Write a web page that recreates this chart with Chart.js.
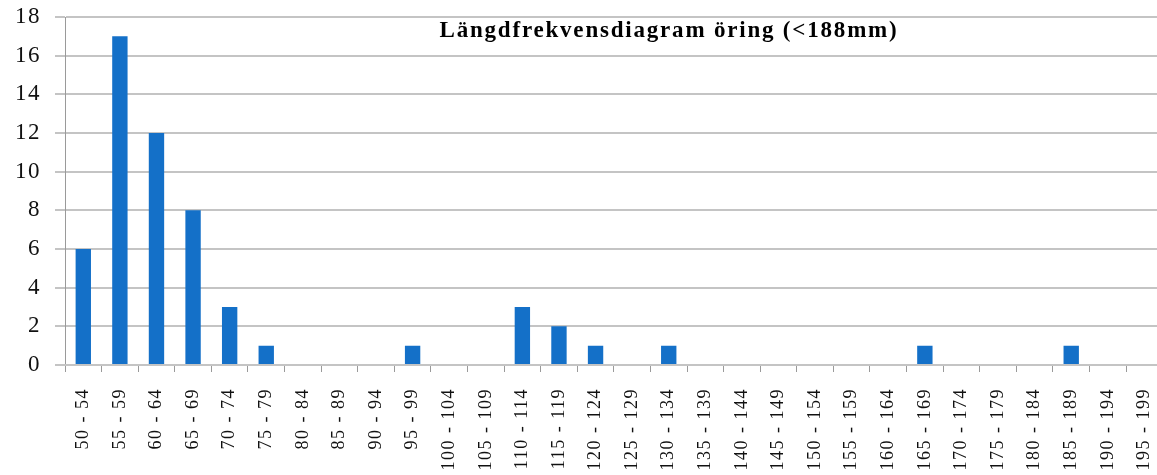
<!DOCTYPE html>
<html>
<head>
<meta charset="utf-8">
<script src="https://cdn.jsdelivr.net/npm/chart.js@4/dist/chart.umd.min.js"></script>
<style>
  html, body { margin: 0; padding: 0; background: #fff; overflow: hidden; }
  #wrap { width: 1182px; height: 475px; }
</style>
</head>
<body>
<div id="wrap"><canvas id="chart-length" width="1182" height="475"></canvas></div>
<script>
// length classes (mm) and fish counts
const lengthClasses = [
  '50 - 54', '55 - 59', '60 - 64', '65 - 69', '70 - 74', '75 - 79', '80 - 84', '85 - 89',
  '90 - 94', '95 - 99', '100 - 104', '105 - 109', '110 - 114', '115 - 119', '120 - 124',
  '125 - 129', '130 - 134', '135 - 139', '140 - 144', '145 - 149', '150 - 154', '155 - 159',
  '160 - 164', '165 - 169', '170 - 174', '175 - 179', '180 - 184', '185 - 189', '190 - 194', '195 - 199'
];
const counts = [6, 17, 12, 8, 3, 1, 0, 0, 0, 1, 0, 0, 3, 2, 1, 0, 1, 0, 0, 0, 0, 0, 0, 1, 0, 0, 0, 1, 0, 0];
const yTicks = [0, 2, 4, 6, 8, 10, 12, 14, 16, 18];
const chartTitle = 'Längdfrekvensdiagram öring (<188mm)';

const SERIF = '"Liberation Serif", "DejaVu Serif", serif';

// wide-ish lettering like the original, plus the title drawn inside the plot
const textStyle = {
  id: 'textStyle',
  beforeDraw(chart) {
    chart.ctx.letterSpacing = '1.5px';
  },
  afterDraw(chart) {
    const ctx = chart.ctx;
    ctx.save();
    ctx.font = 'bold 23px ' + SERIF;
    ctx.letterSpacing = '1.8px';
    ctx.fillStyle = '#000';
    ctx.textAlign = 'center';
    ctx.textBaseline = 'middle';
    ctx.fillText(chartTitle, 669, 31);
    ctx.restore();
    ctx.letterSpacing = '0px';
  }
};

new Chart(document.getElementById('chart-length'), {
  type: 'bar',
  data: {
    labels: lengthClasses,
    datasets: [{
      data: counts,
      backgroundColor: '#1470c8',
      borderWidth: 0,
      barPercentage: 0.42,
      categoryPercentage: 1.0
    }]
  },
  options: {
    responsive: false,
    animation: false,
    layout: { padding: { top: 17, right: 0, left: 0, bottom: 0 } },
    plugins: {
      legend: { display: false },
      tooltip: { enabled: false }
    },
    scales: {
      y: {
        min: 0,
        max: 18,
        afterFit: (s) => { s.width = 65; s.paddingTop = 0; },
        afterBuildTicks: (s) => { s.ticks = yTicks.map(v => ({ value: v })); },
        grid: { color: '#c4c4c4', lineWidth: 2, tickLength: 10 },
        border: { color: '#9a9a9a', width: 1 },
        ticks: {
          color: '#111',
          padding: 14,
          font: { family: SERIF, size: 23, lineHeight: 0.6 }
        }
      },
      x: {
        afterFit: (s) => { s.height = 110; },
        grid: { drawOnChartArea: false, color: '#9a9a9a', tickLength: 7, offset: true },
        border: { color: '#c4c4c4', width: 2 },
        ticks: {
          color: '#111',
          minRotation: 90,
          maxRotation: 90,
          autoSkip: false,
          padding: 16,
          font: { family: SERIF, size: 18 }
        }
      }
    }
  },
  plugins: [textStyle]
});
</script>
</body>
</html>
